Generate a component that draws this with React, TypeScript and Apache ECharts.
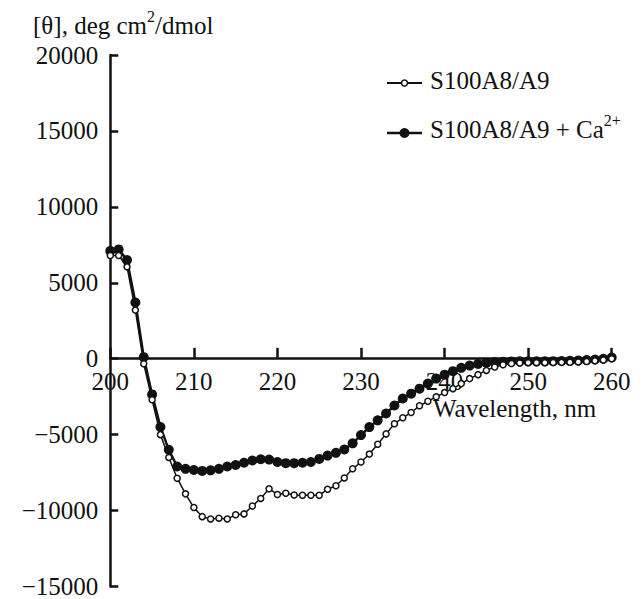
import React, { useEffect, useRef } from "react";
import * as echarts from "echarts";

const wavelengths = [
  200, 201, 202, 203, 204, 205, 206, 207, 208, 209,
  210, 211, 212, 213, 214, 215, 216, 217, 218, 219,
  220, 221, 222, 223, 224, 225, 226, 227, 228, 229,
  230, 231, 232, 233, 234, 235, 236, 237, 238, 239,
  240, 241, 242, 243, 244, 245, 246, 247, 248, 249,
  250, 251, 252, 253, 254, 255, 256, 257, 258, 259, 260,
];

const apoValues = [
  6800, 6800, 6050, 3200, -330, -2700, -5000, -6500, -7870, -8900,
  -9800, -10400, -10550, -10500, -10550, -10280, -10220, -9700, -9200, -8570,
  -8940, -8860, -8970, -8990, -8990, -8990, -8600, -8370, -7850, -7250,
  -6800, -6280, -5630, -4950, -4280, -3890, -3540, -3100, -2800, -2510,
  -2230, -1970, -1640, -1310, -1050, -770, -550, -400, -320, -280,
  -260, -260, -260, -250, -240, -230, -210, -180, -140, -80, 0,
];

const caValues = [
  7100, 7200, 6500, 3700, 100, -2350, -4500, -6000, -7100, -7250,
  -7330, -7390, -7350, -7250, -7100, -7000, -6850, -6700, -6620, -6640,
  -6800, -6880, -6880, -6850, -6800, -6600, -6380, -6200, -5980, -5570,
  -5030, -4500, -4060, -3610, -3080, -2620, -2300, -1970, -1640, -1310,
  -1050, -820, -600, -450, -340, -260, -220, -200, -180, -170,
  -170, -170, -170, -160, -150, -140, -120, -90, -50, 0, 80,
];

const seriesNames = ["S100A8/A9", "S100A8/A9 + Ca2+"];
const xAxisTitle = "Wavelength, nm";

const Y_MIN = -15000;
const Y_MAX = 20000;
const GRID_TOP = 55;
const GRID_BOTTOM = 10.4;
const CHART_H = 599;

const FONT = "Liberation Serif, Times New Roman, serif";
const INK = "#111";

export default function App() {
  const ref = useRef<HTMLDivElement>(null);

  useEffect(() => {
    if (!ref.current) return;
    const chart = echarts.init(ref.current, undefined, { renderer: "svg" });

    const plotH = CHART_H - GRID_TOP - GRID_BOTTOM;
    // shift the x axis from the bottom of the grid up to the y = 0 line
    const zeroOffset = -(plotH * (0 - Y_MIN)) / (Y_MAX - Y_MIN);

    const legendRows = [
      { y: 83, open: true },
      { y: 133, open: false },
    ];

    const legendGraphics: any[] = [];
    legendRows.forEach((r) => {
      legendGraphics.push({
        type: "line",
        shape: { x1: 387, y1: r.y, x2: 422, y2: r.y },
        style: { stroke: INK, lineWidth: r.open ? 1.8 : 2.5 },
        z: 100,
      });
      legendGraphics.push({
        type: "circle",
        shape: { cx: 404.5, cy: r.y, r: r.open ? 3 : 5 },
        style: r.open
          ? { fill: "#fff", stroke: INK, lineWidth: 1.5 }
          : { fill: INK },
        z: 101,
      });
    });
    legendGraphics.push({
      type: "text",
      left: 430,
      top: 83 - 15,
      style: {
        text: seriesNames[0],
        fontSize: 25,
        fontFamily: FONT,
        fill: INK,
      },
      z: 100,
    });
    legendGraphics.push({
      type: "text",
      left: 430,
      top: 133 - 21,
      style: {
        text: "{a|S100A8/A9 + Ca}{s|2+}",
        fill: INK,
        rich: {
          a: { fontSize: 25, fontFamily: FONT, fill: INK, lineHeight: 30, verticalAlign: "bottom" },
          s: { fontSize: 16, fontFamily: FONT, fill: INK, lineHeight: 16, verticalAlign: "top" },
        },
      },
      z: 100,
    });

    const option: any = {
      animation: false,
      backgroundColor: "#fff",
      textStyle: { fontFamily: FONT },
      grid: { left: 110.3, right: 30.3, top: GRID_TOP, bottom: GRID_BOTTOM, containLabel: false },
      xAxis: {
        type: "value",
        min: 200,
        max: 260,
        interval: 10,
        position: "bottom",
        offset: zeroOffset,
        axisLine: { onZero: false, lineStyle: { color: INK, width: 2.5 } },
        axisTick: { inside: true, length: 10, lineStyle: { color: INK, width: 2.5 } },
        axisLabel: {
          margin: 11,
          fontSize: 25,
          fontFamily: FONT,
          color: INK,
        },
        splitLine: { show: false },
      },
      yAxis: {
        type: "value",
        min: Y_MIN,
        max: Y_MAX,
        interval: 5000,
        axisLine: { show: true, onZero: false, lineStyle: { color: INK, width: 2.5 } },
        axisTick: { show: true, inside: true, length: 8, lineStyle: { color: INK, width: 2.5 } },
        axisLabel: {
          margin: 12,
          fontSize: 25,
          fontFamily: FONT,
          color: INK,
          formatter: (v: number) => String(v).replace("-", "\u2212"),
        },
        splitLine: { show: false },
      },
      graphic: [
        {
          type: "text",
          left: 33,
          top: 8,
          style: {
            text: "{a|[θ], deg cm}{s|2}{a|/dmol}",
            fill: INK,
            rich: {
              a: { fontSize: 25, fontFamily: FONT, fill: INK, lineHeight: 30, verticalAlign: "bottom" },
              s: { fontSize: 16, fontFamily: FONT, fill: INK, lineHeight: 16, verticalAlign: "top" },
            },
          },
        },
        {
          type: "text",
          left: 433,
          top: 396,
          style: {
            text: xAxisTitle,
            fontSize: 25,
            fontFamily: FONT,
            fill: INK,
          },
          z: 50,
        },
        ...legendGraphics,
      ],
      series: [
        {
          name: seriesNames[1],
          type: "line",
          data: wavelengths.map((w, i) => [w, caValues[i]]),
          symbol: "circle",
          symbolSize: 10,
          showAllSymbol: true,
          itemStyle: { color: INK },
          lineStyle: { color: INK, width: 2.5 },
          z: 2,
        },
        {
          name: seriesNames[0],
          type: "line",
          data: wavelengths.map((w, i) => [w, apoValues[i]]),
          symbol: "circle",
          symbolSize: 6,
          showAllSymbol: true,
          itemStyle: { color: "#fff", borderColor: INK, borderWidth: 1.5 },
          lineStyle: { color: INK, width: 1.5 },
          z: 3,
        },
      ],
    };
    chart.setOption(option);
    return () => chart.dispose();
  }, []);

  return (
    <div
      ref={ref}
      style={{ position: "fixed", left: 0, top: 0, width: 642, height: 599, background: "#fff" }}
    />
  );
}
